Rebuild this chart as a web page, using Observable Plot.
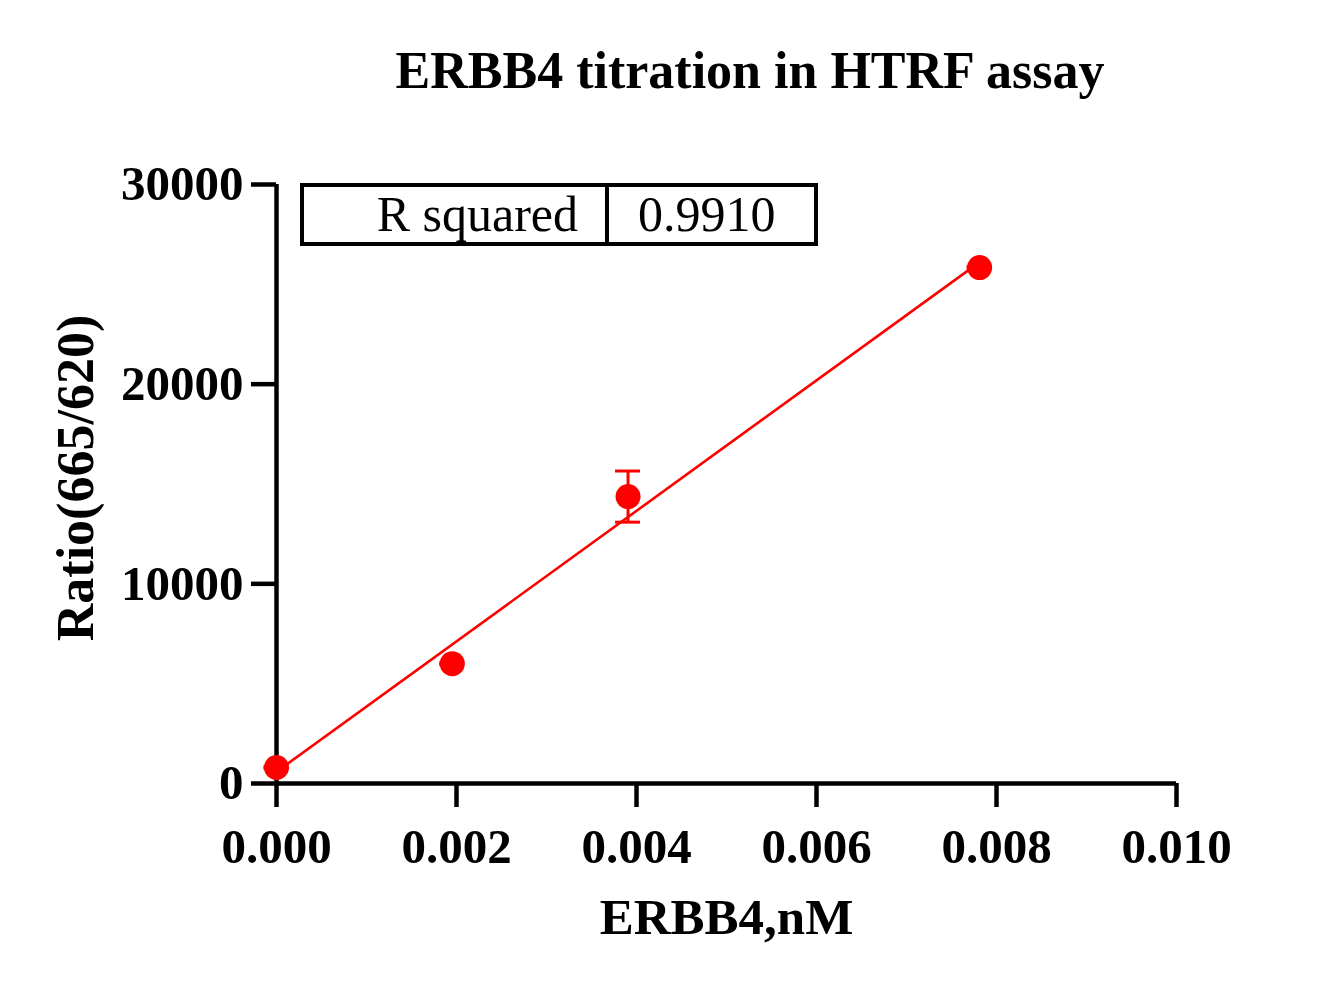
<!DOCTYPE html>
<html>
<head>
<meta charset="utf-8">
<script src="https://cdn.jsdelivr.net/npm/d3@7"></script>
<script src="https://cdn.jsdelivr.net/npm/@observablehq/plot@0.6"></script>
<style>
  body { margin: 0; background: #fff; }
  #wrap { position: relative; width: 1328px; height: 990px; overflow: hidden; background: #fff;
          font-family: "Liberation Serif", "Times New Roman", serif; color: #000; }
  #title { position: absolute; left: 0; top: 45px; width: 1328px; padding-left: 172px; box-sizing: border-box;
           text-align: center; font-size: 52px; line-height: 52px; font-weight: bold; white-space: nowrap; }
  #chart { position: absolute; left: 0; top: 120px; }
  #rsq { position: absolute; left: 300px; top: 183px; width: 518px; height: 63px; border: 4px solid #000;
         box-sizing: border-box; display: flex; font-size: 50px; line-height: 55px; white-space: nowrap; }
  #rsq .k { width: 274px; border-right: 4px solid #000; text-align: right; padding-right: 27px; box-sizing: content-box; }
  #rsq .v { padding-left: 29px; }
</style>
</head>
<body>
<div id="wrap">
  <div id="title"></div>
  <div id="chart"></div>
  <div id="rsq"><div class="k"></div><div class="v"></div></div>
</div>
<script>
const titleText = "ERBB4 titration in HTRF assay";
const xLabel = "ERBB4,nM";
const yLabel = "Ratio(665/620)";
const rsqLabel = "R squared";
const rsqValue = "0.9910";

// ERBB4 concentration (nM)
const concentrations = [0, 0.001953, 0.003906, 0.0078125];
// Mean ratio (665/620)
const ratios = [800, 6000, 14370, 25840];
// Standard deviations (only the third is visible beyond the marker)
const sds = [40, 50, 1280, 50];

const xTicks = [0, 0.002, 0.004, 0.006, 0.008, 0.010];
const yTicks = [0, 10000, 20000, 30000];

const data = concentrations.map((c, i) => ({x: c, y: ratios[i], lo: ratios[i] - sds[i], hi: ratios[i] + sds[i]}));

document.getElementById("title").textContent = titleText;
document.querySelector("#rsq .k").textContent = rsqLabel;
document.querySelector("#rsq .v").textContent = rsqValue;

const red = "#ff0000";
const font = "'Liberation Serif', 'Times New Roman', serif";

const chart = Plot.plot({
  width: 1328,
  height: 870,
  marginTop: 64,
  marginBottom: 207,
  marginLeft: 276,
  marginRight: 152,
  x: {domain: [0, 0.010]},
  y: {domain: [0, 30000]},
  style: {fontFamily: font, fontWeight: "bold", fontSize: "48px", background: "transparent", overflow: "visible", color: "#000"},
  marks: [
    Plot.axisX({ticks: xTicks, tickFormat: d3.format(".3f"), tickSize: 24, tickPadding: 21, strokeWidth: 4.5, label: null, fontSize: 49}),
    Plot.axisY({ticks: yTicks, tickFormat: d => String(d), tickSize: 25, tickPadding: 8, strokeWidth: 4.5, label: null, fontSize: 49}),
    Plot.ruleX([0], {strokeWidth: 4.5, stroke: "#000"}),
    Plot.ruleY([0], {strokeWidth: 4.5, stroke: "#000"}),
    Plot.linearRegressionY(data, {x: "x", y: "y", stroke: red, strokeWidth: 2.6, ci: 0}),
    Plot.ruleX(data, {x: "x", y1: "lo", y2: "hi", stroke: red, strokeWidth: 3}),
    Plot.ruleY(data, {y: "hi", x1: "x", x2: "x", insetLeft: -12.5, insetRight: -12.5, stroke: red, strokeWidth: 3}),
    Plot.ruleY(data, {y: "lo", x1: "x", x2: "x", insetLeft: -12.5, insetRight: -12.5, stroke: red, strokeWidth: 3}),
    Plot.dot(data, {x: "x", y: "y", r: 12.5, fill: red, stroke: "none"}),
    Plot.text([xLabel], {text: d => d, frameAnchor: "bottom", dy: 150, fontSize: 51, fontWeight: "bold", fill: "#000"}),
    Plot.text([yLabel], {text: d => d, frameAnchor: "left", textAnchor: "middle", dx: -200, dy: -6, rotate: -90, fontSize: 52, fontWeight: "bold", fill: "#000"})
  ]
});
document.getElementById("chart").appendChild(chart);
</script>
</body>
</html>
